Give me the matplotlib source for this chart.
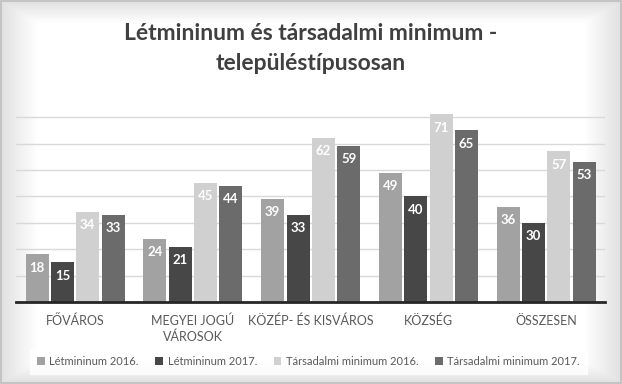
import numpy as np
import matplotlib
matplotlib.use("Agg")
import matplotlib.pyplot as plt
from matplotlib.patches import Rectangle


categories = ["FŐVÁROS", "MEGYEI JOGÚ\nVÁROSOK", "KÖZÉP- ÉS KISVÁROS", "KÖZSÉG", "ÖSSZESEN"]
series_names = ["Létmininum 2016.", "Létmininum 2017.",
                "Társadalmi minimum 2016.", "Társadalmi minimum 2017."]
letmin_2016 = [18, 24, 39, 49, 36]
letmin_2017 = [15, 21, 33, 40, 30]
tars_2016 = [34, 45, 62, 71, 57]
tars_2017 = [33, 44, 59, 65, 53]
colors = ["#a2a2a2", "#474747", "#d0d0d0", "#6b6b6b"]


def create_chart():

    plt.rcParams["font.family"] = ["Lato", "DejaVu Sans"]

    fig = plt.figure(figsize=(6.22, 3.84), dpi=100)
    fig.patch.set_facecolor("white")

    # soft grey vignette behind everything
    bg = fig.add_axes([0, 0, 1, 1], zorder=-10)
    yy, xx = np.mgrid[-1:1:200j, -1:1:320j]
    edge = np.clip(np.maximum(np.abs(xx), np.abs(yy)) - 0.88, 0, None) / 0.12
    bg.imshow(1 - 0.12 * edge, cmap="gray", vmin=0, vmax=1,
              aspect="auto", extent=[0, 1, 0, 1])
    bg.add_patch(Rectangle((0.002, 0.003), 0.996, 0.994, fill=False,
                           edgecolor="#bfbfbf", linewidth=1.2))
    bg.set_axis_off()

    fig.text(0.5, 0.914, "Létmininum és társadalmi minimum -",
             ha="center", va="center", fontsize=16.5, fontweight="bold",
             color="#404040")
    fig.text(0.5, 0.834, "településtípusosan",
             ha="center", va="center", fontsize=16.5, fontweight="bold",
             color="#404040")

    ax = fig.add_axes([0.026, 0.2135, 0.947, 0.509])
    ax.set_facecolor("none")

    x = np.arange(len(categories))
    data = [letmin_2016, letmin_2017, tars_2016, tars_2017]
    width = 0.195
    step = 0.215

    for i, values in enumerate(data):
        pos = x + (i - 1.5) * step
        bars = ax.bar(pos, values, width, color=colors[i],
                      label=series_names[i], zorder=3)
        for b, v in zip(bars, values):
            ax.annotate(str(v), (b.get_x() + b.get_width() / 2, v),
                        xytext=(0, -9.5), textcoords="offset points",
                        ha="center", va="center", color="white",
                        fontsize=9.5, fontweight="bold", zorder=4)

    ax.set_xlim(-0.5, len(categories) - 0.5)
    ax.set_ylim(0, 74)
    ax.set_yticks(range(10, 71, 10))
    ax.yaxis.grid(True, color="#d9d9d9", linewidth=1, zorder=0)
    ax.tick_params(axis="y", left=False, labelleft=False)
    ax.tick_params(axis="x", length=0, pad=9)
    ax.set_xticks(x)
    ax.set_xticklabels(categories, fontsize=9, color="#595959",
                       linespacing=1.3)
    for sp in ["top", "right", "left"]:
        ax.spines[sp].set_visible(False)
    ax.spines["bottom"].set_color("#262626")
    ax.spines["bottom"].set_linewidth(2)
    ax.spines["bottom"].set_zorder(5)

    leg = fig.legend(loc="center", bbox_to_anchor=(0.496, 0.058), ncol=4,
                     frameon=True, fancybox=False, fontsize=8,
                     handlelength=0.7, handleheight=0.7, handletextpad=0.4,
                     columnspacing=1.5, borderpad=0.6)
    leg.get_frame().set_facecolor("white")
    leg.get_frame().set_edgecolor("white")
    for t in leg.get_texts():
        t.set_color("#595959")

    fig.savefig("out.png", dpi=100, facecolor=fig.get_facecolor())
    plt.close(fig)


create_chart()
